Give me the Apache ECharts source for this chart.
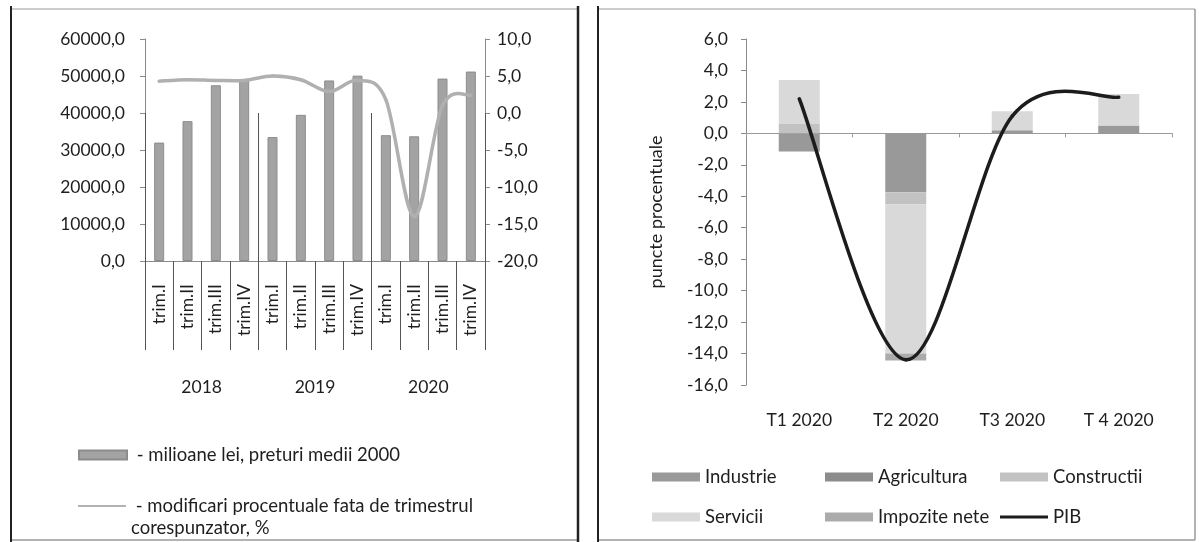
<!DOCTYPE html>
<html>
<head>
<meta charset="utf-8">
<script src="https://cdn.jsdelivr.net/npm/echarts@6/dist/echarts.min.js"></script>
<style>
html,body{margin:0;padding:0;background:#fff;}
#c{width:1199px;height:542px;}
</style>
</head>
<body>
<div id="c"></div>
<script>
// ---- data (left chart) ----
const quarterLabels = ['trim.I','trim.II','trim.III','trim.IV','trim.I','trim.II','trim.III','trim.IV','trim.I','trim.II','trim.III','trim.IV'];
const yearLabels = ['2018','2019','2020'];
const gdpMillionLei = [32000, 37800, 47500, 48900, 33500, 39500, 48800, 50100, 34000, 33700, 49300, 51200];
const gdpChangePct = [4.3, 4.5, 4.4, 4.4, 5.0, 4.5, 2.9, 4.4, 1.8, -14.0, 1.0, 2.4];
const leftTicks = [0, 10000, 20000, 30000, 40000, 50000, 60000];
const rightTicks = [-20, -15, -10, -5, 0, 5, 10];

// ---- data (right chart) ----
const periods = ['T1 2020', 'T2 2020', 'T3 2020', 'T 4 2020'];
const industrie = [-1.15, -3.75, 0.2, 0.5];
const agricultura = [0.0, 0.0, 0.0, 0.0];
const constructii = [0.6, -0.75, 0.0, 0.0];
const servicii = [2.8, -9.5, 1.2, 2.0];
const impoziteNete = [0.0, -0.45, 0.0, 0.0];
const pib = [2.2, -14.4, 1.1, 2.3];
const contribTicks = [-16, -14, -12, -10, -8, -6, -4, -2, 0, 2, 4, 6];

const FONT = 'Lato';
const TXT = '#1e1e1e';
const fmt = v => v.toFixed(1).replace('.', ',');

// Excel-like smoothed line drawn segment by segment through the axis scales
function smoothRender(vals, color, width) {
  return function (params, api) {
    const n = vals.length;
    const i = params.dataIndex;
    if (i >= n - 1) return { type: 'group', children: [] };
    const P = k => { const kk = Math.max(0, Math.min(n - 1, k)); return api.coord([kk, vals[kk]]); };
    const p0 = P(i - 1), p1 = P(i), p2 = P(i + 1), p3 = P(i + 2);
    const c1 = [p1[0] + (p2[0] - p0[0]) / 6, p1[1] + (p2[1] - p0[1]) / 6];
    const c2 = [p2[0] - (p3[0] - p1[0]) / 6, p2[1] - (p3[1] - p1[1]) / 6];
    return {
      type: 'bezierCurve',
      shape: { x1: p1[0], y1: p1[1], x2: p2[0], y2: p2[1], cpx1: c1[0], cpy1: c1[1], cpx2: c2[0], cpy2: c2[1] },
      style: { stroke: color, lineWidth: width, fill: null, lineCap: 'round' }
    };
  };
}

const chart = echarts.init(document.getElementById('c'), null, { renderer: 'canvas' });

const lbl = { fontFamily: FONT, fontSize: 17.5, color: TXT };
const grayLine = { color: '#8a8a8a', width: 1 };
const legTxt = { fontFamily: FONT, fontSize: 18.5, color: TXT, lineHeight: 20 };

function legendAt(name, left, top, opts) {
  return Object.assign({
    data: [name], left: left, top: top, orient: 'vertical', padding: 0,
    itemWidth: 48, itemHeight: 9, icon: 'rect', selectedMode: false,
    textStyle: legTxt
  }, opts || {});
}

const option = {
  backgroundColor: '#fff',
  animation: false,
  grid: [
    { left: 145, top: 39, width: 340, height: 222, outerBoundsMode: 'none' },
    { left: 746, top: 39, width: 426, height: 346, outerBoundsMode: 'none' }
  ],
  xAxis: [
    { gridIndex: 0, type: 'category', data: quarterLabels, position: 'bottom',
      axisLine: { lineStyle: grayLine },
      axisTick: { show: true, interval: 0, length: 89, lineStyle: { color: '#555' } },
      axisLabel: Object.assign({ rotate: 90, interval: 0, margin: 23 }, lbl) },
    { gridIndex: 0, type: 'category', data: yearLabels, position: 'bottom',
      axisLine: { show: false },
      axisTick: { show: true, interval: 0, length: 152, lineStyle: { color: '#555' } },
      axisLabel: Object.assign({ interval: 0, margin: 117 }, lbl) },
    { gridIndex: 1, type: 'category', data: periods, position: 'bottom',
      axisLine: { show: false, onZero: false }, axisTick: { show: false },
      axisLabel: Object.assign({ interval: 0, margin: 26 }, lbl) },
    { gridIndex: 1, type: 'category', data: periods, position: 'bottom',
      axisLine: { show: true, onZero: true, lineStyle: { color: '#9a9a9a', width: 1 } },
      axisTick: { show: true, interval: 0, length: 4, lineStyle: { color: '#9a9a9a' } },
      axisLabel: { show: false } }
  ],
  yAxis: [
    { gridIndex: 0, type: 'value', min: leftTicks[0], max: leftTicks[leftTicks.length - 1], interval: 10000,
      axisLine: { show: true, onZero: false, lineStyle: grayLine },
      axisTick: { show: true, length: 5, lineStyle: grayLine },
      splitLine: { show: false },
      axisLabel: Object.assign({ margin: 20, formatter: fmt }, lbl) },
    { gridIndex: 0, type: 'value', position: 'right', min: rightTicks[0], max: rightTicks[rightTicks.length - 1], interval: 5,
      axisLine: { show: true, onZero: false, lineStyle: grayLine },
      axisTick: { show: true, length: 5, lineStyle: grayLine },
      splitLine: { show: false },
      axisLabel: Object.assign({ margin: 12, formatter: fmt }, lbl) },
    { gridIndex: 1, type: 'value', min: contribTicks[0], max: contribTicks[contribTicks.length - 1], interval: 2,
      name: 'puncte procentuale', nameLocation: 'middle', nameGap: 81,
      nameTextStyle: { fontFamily: FONT, fontSize: 18, color: TXT },
      axisLine: { show: true, onZero: false, lineStyle: grayLine },
      axisTick: { show: true, length: 5, lineStyle: grayLine },
      splitLine: { show: false },
      axisLabel: Object.assign({ margin: 18, formatter: fmt }, lbl) }
  ],
  legend: [
    legendAt('milioane', 78, 445, { formatter: () => ' - milioane lei, preturi medii 2000' }),
    legendAt('modificari', 78, 473, { itemHeight: 2,
      textStyle: { fontFamily: FONT, fontSize: 18.5, color: TXT, lineHeight: 22 },
      data: [{ name: 'modificari', icon: 'rect', itemStyle: { color: '#b3b3b3' } }],
      formatter: () => '\n - modificari procentuale fata de trimestrul\ncorespunzator, %' }),
    legendAt('Industrie', 652, 467),
    legendAt('Agricultura', 825, 467),
    legendAt('Constructii', 1000, 467),
    legendAt('Servicii', 652, 507),
    legendAt('Impozite nete', 825, 507),
    legendAt('PIB', 1000, 507, { itemHeight: 3, data: [{ name: 'PIB', icon: 'rect', itemStyle: { color: '#1c1c1c' } }] })
  ],
  series: [
    { name: 'milioane', type: 'bar', xAxisIndex: 0, yAxisIndex: 0, data: gdpMillionLei, barWidth: 10,
      itemStyle: { color: '#a3a3a3', borderColor: '#8c8c8c', borderWidth: 1 } },
    { name: 'modificari', type: 'custom', xAxisIndex: 0, yAxisIndex: 1, z: 5,
      data: gdpChangePct.map((v, i) => [i, v]), encode: { x: 0, y: 1 },
      itemStyle: { color: '#b3b3b3' },
      renderItem: smoothRender(gdpChangePct, '#b0b0b0', 3.5) },

    { name: 'Industrie', type: 'bar', xAxisIndex: 2, yAxisIndex: 2, stack: 'c', data: industrie, barWidth: 41,
      itemStyle: { color: '#999999' } },
    { name: 'Agricultura', type: 'bar', xAxisIndex: 2, yAxisIndex: 2, stack: 'c', data: agricultura, barWidth: 41,
      itemStyle: { color: '#8c8c8c' } },
    { name: 'Constructii', type: 'bar', xAxisIndex: 2, yAxisIndex: 2, stack: 'c', data: constructii, barWidth: 41,
      itemStyle: { color: '#c2c2c2' } },
    { name: 'Servicii', type: 'bar', xAxisIndex: 2, yAxisIndex: 2, stack: 'c', data: servicii, barWidth: 41,
      itemStyle: { color: '#d9d9d9' } },
    { name: 'Impozite nete', type: 'bar', xAxisIndex: 2, yAxisIndex: 2, stack: 'c', data: impoziteNete, barWidth: 41,
      itemStyle: { color: '#ababab' } },
    { name: 'PIB', type: 'custom', xAxisIndex: 2, yAxisIndex: 2, z: 5,
      data: pib.map((v, i) => [i, v]), encode: { x: 0, y: 1 },
      itemStyle: { color: '#1c1c1c' },
      renderItem: smoothRender(pib, '#1c1c1c', 3.5) }
  ],
  graphic: [
    { type: 'line', shape: { x1: 11, y1: 9, x2: 578, y2: 9 }, style: { stroke: '#bbbbbb', lineWidth: 1.5 } },
    { type: 'line', shape: { x1: 598, y1: 9, x2: 1195, y2: 9 }, style: { stroke: '#bbbbbb', lineWidth: 1.5 } },
    { type: 'line', shape: { x1: 11, y1: 540, x2: 578, y2: 540 }, style: { stroke: '#9a9a9a', lineWidth: 1.5 } },
    { type: 'line', shape: { x1: 598, y1: 540, x2: 1195, y2: 540 }, style: { stroke: '#9a9a9a', lineWidth: 1.5 } },
    { type: 'line', shape: { x1: 11, y1: 6, x2: 11, y2: 542 }, style: { stroke: '#222', lineWidth: 2 } },
    { type: 'line', shape: { x1: 578, y1: 6, x2: 578, y2: 542 }, style: { stroke: '#222', lineWidth: 2.5 } },
    { type: 'line', shape: { x1: 598, y1: 6, x2: 598, y2: 542 }, style: { stroke: '#222', lineWidth: 2 } },
    { type: 'line', shape: { x1: 1195, y1: 9, x2: 1195, y2: 540 }, style: { stroke: '#9a9a9a', lineWidth: 1.5 } }
  ]
};
chart.setOption(option);
</script>
</body>
</html>
